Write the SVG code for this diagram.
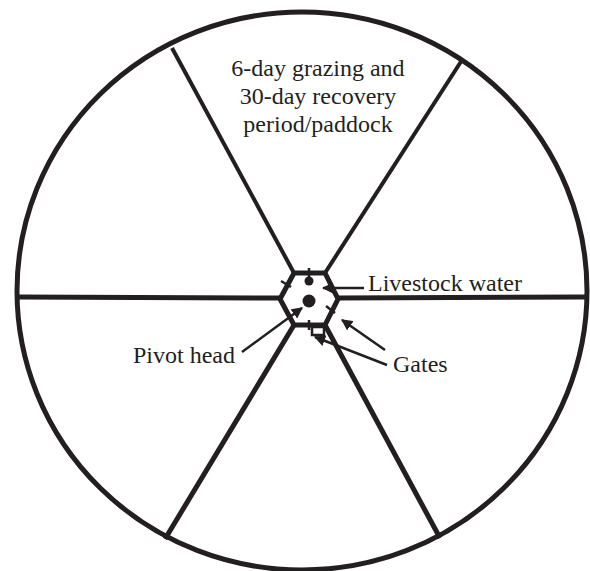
<svg xmlns="http://www.w3.org/2000/svg" width="590" height="571" viewBox="0 0 590 571">
<defs>
<style>
.o{fill:none;stroke:#231f20;stroke-width:5}
.s{fill:none;stroke:#231f20;stroke-width:4;stroke-linecap:butt}
.h{fill:none;stroke:#231f20;stroke-width:5;stroke-linecap:butt}
.l{fill:none;stroke:#231f20;stroke-width:2.5}
.t{font-family:"Liberation Serif","Times New Roman",serif;font-size:24px;fill:#231f20}
</style>
<marker id="ah" viewBox="0 0 10 10" refX="9" refY="5" markerWidth="4.5" markerHeight="4.5" markerUnits="strokeWidth" orient="auto">
<path d="M0,0 L10,5 L0,10 z" fill="#231f20"/>
</marker>
</defs>
<rect width="590" height="571" fill="#ffffff"/>
<g id="pasture">
<ellipse class="o" cx="302" cy="291" rx="285" ry="279"/>
</g>
<g id="spokes">
<line class="h" x1="280" y1="298" x2="18" y2="297"/>
<line class="h" x1="338" y1="298" x2="586" y2="297"/>
<line class="s" x1="294" y1="273" x2="172" y2="48"/>
<line class="s" x1="325" y1="273" x2="462" y2="60"/>
<line class="h" x1="294" y1="325" x2="165" y2="539"/>
<line class="h" x1="325" y1="325" x2="440" y2="538"/>
</g>
<g id="hub">
<polygon class="o" points="280,299 294,273 325,273 338,299 325,325 294,325"/>
<circle cx="309" cy="301" r="6.5" fill="#231f20"/>
<circle cx="309" cy="281" r="4.5" fill="#231f20"/>
<line class="l" x1="309" y1="268" x2="309" y2="278"/>
<line class="l" x1="281" y1="281" x2="291" y2="287"/>
<line class="l" x1="326" y1="306" x2="335" y2="313"/>
<line class="l" x1="309" y1="320" x2="309" y2="330"/>
<rect x="312" y="327" width="12" height="8" fill="none" stroke="#231f20" stroke-width="2.5"/>
</g>
<g id="connectors">
<line class="l" x1="364" y1="288" x2="323" y2="288" marker-end="url(#ah)"/>
<line class="l" x1="242" y1="352" x2="302" y2="308" marker-end="url(#ah)"/>
<line class="l" x1="385" y1="350" x2="342" y2="320" marker-end="url(#ah)"/>
<line class="l" x1="387" y1="365" x2="315" y2="337" marker-end="url(#ah)"/>
</g>
<g id="labels">
<text class="t" x="318" y="76" text-anchor="middle">6-day grazing and</text>
<text class="t" x="318" y="104" text-anchor="middle">30-day recovery</text>
<text class="t" x="318" y="132" text-anchor="middle">period/paddock</text>
<text class="t" x="368" y="291">Livestock water</text>
<text class="t" x="133" y="363">Pivot head</text>
<text class="t" x="393" y="372">Gates</text>
</g>
</svg>
